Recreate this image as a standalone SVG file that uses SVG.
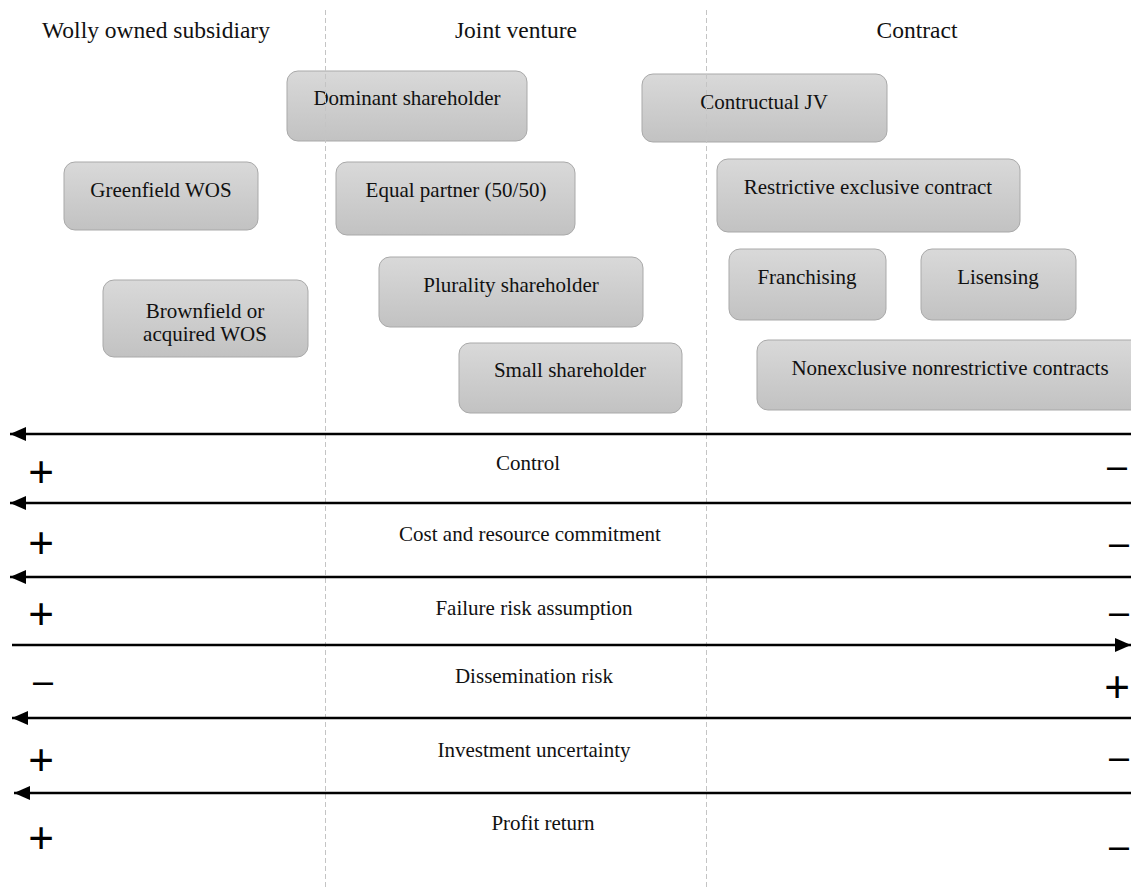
<svg xmlns="http://www.w3.org/2000/svg" width="1131" height="889" viewBox="0 0 1131 889">
  <defs>
    <linearGradient id="boxFill" x1="0" y1="0" x2="0" y2="1">
      <stop offset="0" stop-color="#d9d9d9"/>
      <stop offset="1" stop-color="#c2c2c2"/>
    </linearGradient>
    <marker id="arrowHead" markerUnits="userSpaceOnUse" markerWidth="16" markerHeight="14" viewBox="0 0 16 14" refX="16" refY="7" orient="auto">
      <path d="M0,0 L16,7 L0,14 z" fill="#000"/>
    </marker>
  </defs>
  <style>
    .box { fill: url(#boxFill); stroke: #a9a9a9; stroke-width: 1; }
    .lbl { font-family: "Liberation Serif", "Times New Roman", serif; font-size: 21px; fill: #111; text-anchor: middle; }
    .head { font-family: "Liberation Serif", "Times New Roman", serif; font-size: 23.5px; fill: #111; text-anchor: middle; }
    .sign { font-family: "Liberation Sans", Arial, sans-serif; fill: #000; text-anchor: middle; }
    .plus { font-size: 44px; }
    .minus { font-size: 36px; }
    .axis { stroke: #000; stroke-width: 2.5; fill: none; }
    .divider { stroke: #c4c4c4; stroke-width: 1; stroke-dasharray: 5 3; }
  </style>

  <rect width="1131" height="889" fill="#fff"/>

  <!-- column headers -->
  <g id="headers">
    <text class="head" x="156" y="38">Wolly owned subsidiary</text>
    <text class="head" x="516" y="38">Joint venture</text>
    <text class="head" x="917" y="38">Contract</text>
  </g>

  <!-- entry mode boxes -->
  <g id="dominant-shareholder">
    <rect class="box" x="287" y="71" width="240" height="70" rx="11"/>
    <text class="lbl" x="407" y="105">Dominant shareholder</text>
  </g>
  <g id="contructual-jv">
    <rect class="box" x="642" y="74" width="245" height="68" rx="11"/>
    <text class="lbl" x="764" y="109">Contructual JV</text>
  </g>
  <g id="greenfield-wos">
    <rect class="box" x="64" y="162" width="194" height="68" rx="11"/>
    <text class="lbl" x="161" y="197">Greenfield WOS</text>
  </g>
  <g id="equal-partner">
    <rect class="box" x="336" y="162" width="239" height="73" rx="11"/>
    <text class="lbl" x="456" y="197">Equal partner (50/50)</text>
  </g>
  <g id="restrictive-exclusive-contract">
    <rect class="box" x="717" y="159" width="303" height="73" rx="11"/>
    <text class="lbl" x="868" y="194">Restrictive exclusive contract</text>
  </g>
  <g id="franchising">
    <rect class="box" x="729" y="249" width="157" height="71" rx="11"/>
    <text class="lbl" x="807" y="284">Franchising</text>
  </g>
  <g id="lisensing">
    <rect class="box" x="921" y="249" width="155" height="71" rx="11"/>
    <text class="lbl" x="998" y="284">Lisensing</text>
  </g>
  <g id="plurality-shareholder">
    <rect class="box" x="379" y="257" width="264" height="70" rx="11"/>
    <text class="lbl" x="511" y="292">Plurality shareholder</text>
  </g>
  <g id="brownfield-wos">
    <rect class="box" x="103" y="280" width="205" height="77" rx="11"/>
    <text class="lbl" x="205" y="318">Brownfield or</text>
    <text class="lbl" x="205" y="341">acquired WOS</text>
  </g>
  <g id="nonexclusive-contracts">
    <rect class="box" x="757" y="340" width="386" height="70" rx="11"/>
    <text class="lbl" x="950" y="375">Nonexclusive nonrestrictive contracts</text>
  </g>
  <g id="small-shareholder">
    <rect class="box" x="459" y="343" width="223" height="70" rx="11"/>
    <text class="lbl" x="570" y="377">Small shareholder</text>
  </g>

  <!-- column dividers -->
  <g id="dividers">
    <line class="divider" x1="325.5" y1="10" x2="325.5" y2="889"/>
    <line class="divider" x1="706.5" y1="10" x2="706.5" y2="889"/>
  </g>

  <!-- dimension arrows -->
  <g id="connectors">
    <line class="axis" x1="1131" y1="434" x2="10" y2="434" marker-end="url(#arrowHead)"/>
    <line class="axis" x1="1131" y1="503" x2="10" y2="503" marker-end="url(#arrowHead)"/>
    <line class="axis" x1="1131" y1="577" x2="10" y2="577" marker-end="url(#arrowHead)"/>
    <line class="axis" x1="12" y1="645" x2="1131" y2="645" marker-end="url(#arrowHead)"/>
    <line class="axis" x1="1131" y1="718" x2="12" y2="718" marker-end="url(#arrowHead)"/>
    <line class="axis" x1="1131" y1="793" x2="14" y2="793" marker-end="url(#arrowHead)"/>
  </g>

  <!-- dimension labels -->
  <g id="dimension-labels">
    <text class="lbl" x="528" y="470">Control</text>
    <text class="lbl" x="530" y="541">Cost and resource commitment</text>
    <text class="lbl" x="534" y="615">Failure risk assumption</text>
    <text class="lbl" x="534" y="683">Dissemination risk</text>
    <text class="lbl" x="534" y="757">Investment uncertainty</text>
    <text class="lbl" x="543" y="830">Profit return</text>
  </g>

  <!-- direction signs -->
  <g id="signs">
    <text class="sign plus" x="41" y="487">+</text>
    <text class="sign plus" x="41" y="558">+</text>
    <text class="sign plus" x="41" y="629">+</text>
    <text class="sign minus" x="43" y="693">–</text>
    <text class="sign plus" x="41" y="775">+</text>
    <text class="sign plus" x="41" y="853">+</text>

    <text class="sign minus" x="1117" y="478">–</text>
    <text class="sign minus" x="1119" y="555">–</text>
    <text class="sign minus" x="1119" y="624">–</text>
    <text class="sign plus" x="1117" y="702">+</text>
    <text class="sign minus" x="1119" y="769">–</text>
    <text class="sign minus" x="1119" y="858">–</text>
  </g>
</svg>
